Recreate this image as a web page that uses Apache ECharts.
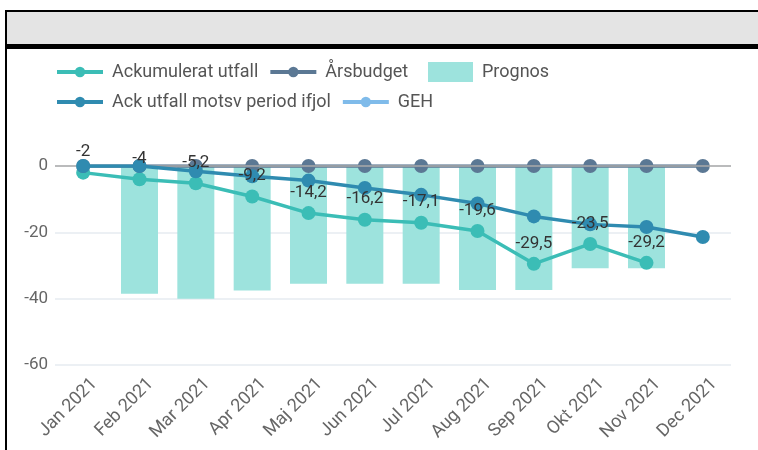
<!DOCTYPE html>
<html>
<head>
<meta charset="utf-8">
<script src="https://cdn.jsdelivr.net/npm/echarts@6/dist/echarts.min.js"></script>
<style>
    body { margin: 0; background: #fff; font-family: Roboto, sans-serif; }
    .frame { position: absolute; left: 5px; top: 10px; right: 0; bottom: 0; border-left: 2px solid #000; border-top: 2px solid #000; }
    .head { position: absolute; left: 7px; top: 12px; right: 0; height: 32px; background: #e4e4e4; border-bottom: 5px solid #000; }
    #chart { position: absolute; left: 0; top: 0; width: 758px; height: 450px; }
</style>
</head>
<body>
<div class="frame"></div>
<div class="head"></div>
<div id="chart"></div>
<script>
/* månadsrapport - ackumulerat utfall mot budget */

var months = ['Jan 2021', 'Feb 2021', 'Mar 2021', 'Apr 2021', 'Maj 2021', 'Jun 2021',
    'Jul 2021', 'Aug 2021', 'Sep 2021', 'Okt 2021', 'Nov 2021', 'Dec 2021'];
var ackUtfall = [-2, -4, -5.2, -9.2, -14.2, -16.2, -17.1, -19.6, -29.5, -23.5, -29.2, '-'];
var arsbudget = [0, 0, 0, 0, 0, 0, 0, 0, 0, 0, 0, 0];
var prognos = ['-', -38.5, -40, -37.5, -35.5, -35.5, -35.5, -37.4, -37.4, -30.8, -30.8, '-'];
var ackIfjol = [0, 0, -1.6, -3.1, -4.4, -6.6, -8.7, -11.3, -15.2, -17.6, -18.4, -21.4];
var geh = [];

var myChart = echarts.init(document.getElementById('chart'));

// gemensam stil för legenderna
var legendText = { fontSize: 18, color: '#555', padding: [0, 0, 0, 4] };
function lineLegend(top, names) {
    return {
        left: 50,
        top: top,
        itemWidth: 46,
        itemHeight: 13,
        itemGap: 10,
        lineStyle: { width: 4 },
        textStyle: legendText,
        data: names
    };
}

var option = {
    animation: false,
    textStyle: { fontFamily: 'Roboto' },
    legend: [
        lineLegend(58, ['Ackumulerat utfall', 'Årsbudget']),
        {
            left: 423,
            top: 57,
            itemWidth: 45,
            itemHeight: 20,
            textStyle: legendText,
            data: [{ name: 'Prognos', icon: 'rect' }]
        },
        lineLegend(88, ['Ack utfall motsv period ifjol', 'GEH'])
    ],
    grid: {
        left: 55,
        right: 27,
        top: 166,
        bottom: 85
    },
    xAxis: {
        type: 'category',
        data: months,
        axisLine: { show: false },
        axisTick: { show: false },
        axisLabel: {
            rotate: 45,
            fontSize: 18,
            color: '#666',
            margin: 9,
            verticalAlign: 'top',
            padding: [4, -3, 0, 0] // flytta etiketten lite åt höger
        }
    },
    yAxis: {
        type: 'value',
        min: -60,
        max: 0,
        interval: 20,
        axisLine: { show: false },
        axisTick: { show: false },
        axisLabel: { fontSize: 17, color: '#666', margin: 7 },
        splitLine: { lineStyle: { color: '#e6ebf0', width: 1.5 } }
    },
    series: [
        {
            name: 'Prognos',
            type: 'bar',
            data: prognos,
            barWidth: 37,
            itemStyle: { color: '#9de3dd' },
            z: 1
        },
        {
            name: 'Ackumulerat utfall',
            type: 'line',
            data: ackUtfall,
            symbol: 'circle',
            symbolSize: 14,
            lineStyle: { width: 3.5, color: '#3bbdb6' },
            itemStyle: { color: '#3bbdb6' },
            z: 3
        },
        {
            name: 'Årsbudget',
            type: 'line',
            data: arsbudget,
            symbol: 'circle',
            symbolSize: 14,
            lineStyle: { width: 3.5, color: '#5b7894' },
            itemStyle: { color: '#5b7894' },
            markLine: { // nollinjen
                silent: true,
                symbol: 'none',
                label: { show: false },
                lineStyle: { color: '#aaa', width: 1.5, type: 'solid' },
                data: [{ yAxis: 0 }]
            },
            z: 4
        },
        {
            name: 'Ack utfall motsv period ifjol',
            type: 'line',
            data: ackIfjol,
            symbol: 'circle',
            symbolSize: 14,
            lineStyle: { width: 3.5, color: '#2f8bb0' },
            itemStyle: { color: '#2f8bb0' },
            z: 5
        },
        {
            name: 'GEH',
            type: 'line',
            data: geh,
            symbol: 'circle',
            symbolSize: 14,
            lineStyle: { width: 3.5, color: '#7fbbea' },
            itemStyle: { color: '#7fbbea' }
        },
        { // etiketterna för utfallet, ritade ovanpå alla linjer
            name: 'Ackumulerat utfall',
            type: 'line',
            data: ackUtfall,
            symbol: 'circle',
            symbolSize: 14,
            lineStyle: { color: 'rgba(0,0,0,0)' },
            itemStyle: { color: 'rgba(0,0,0,0)' },
            silent: true,
            label: {
                show: true,
                position: 'top',
                fontSize: 17,
                color: '#333',
                opacity: 1,
                formatter: function (p) {
                    return String(p.value).replace('.', ',');
                }
            },
            z: 10
        }
    ]
};

myChart.setOption(option);
</script>
</body>
</html>
